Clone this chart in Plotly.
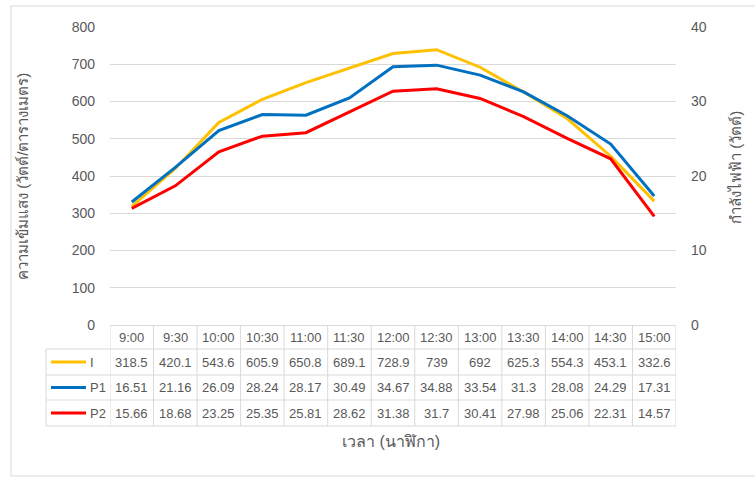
import plotly.graph_objects as go

# Measurement times and series
times = ["9:00", "9:30", "10:00", "10:30", "11:00", "11:30", "12:00",
         "12:30", "13:00", "13:30", "14:00", "14:30", "15:00"]
irradiance = [318.5, 420.1, 543.6, 605.9, 650.8, 689.1, 728.9,
              739, 692, 625.3, 554.3, 453.1, 332.6]
power_p1 = [16.51, 21.16, 26.09, 28.24, 28.17, 30.49, 34.67,
            34.88, 33.54, 31.3, 28.08, 24.29, 17.31]
power_p2 = [15.66, 18.68, 23.25, 25.35, 25.81, 28.62, 31.38,
            31.7, 30.41, 27.98, 25.06, 22.31, 14.57]

series_names = ["I", "P1", "P2"]
series_colors = ["#FFC000", "#0070C0", "#FF0000"]

W, H = 755, 479
L, R, T, B = 110, 676, 27, 325          # plot area in pixels
GRID = "#D9D9D9"
TXT = "#595959"
FONT = "Liberation Sans, Noto Sans, sans-serif"


def px(x):
    return (x - L) / (R - L)


def py(y):
    return (B - y) / (B - T)


idx = list(range(len(times)))
fig = go.Figure()
fig.add_trace(go.Scatter(x=idx, y=irradiance, name="I", mode="lines",
                         line=dict(color=series_colors[0], width=3), yaxis="y"))
fig.add_trace(go.Scatter(x=idx, y=power_p1, name="P1", mode="lines",
                         line=dict(color=series_colors[1], width=3), yaxis="y2"))
fig.add_trace(go.Scatter(x=idx, y=power_p2, name="P2", mode="lines",
                         line=dict(color=series_colors[2], width=3), yaxis="y2"))

shapes = []
annotations = []

# chart frame
shapes.append(dict(type="rect", xref="paper", yref="paper",
                   x0=px(11), x1=px(770), y0=py(476), y1=py(6),
                   line=dict(color=GRID, width=1), layer="below"))

# data table below the axis
n = len(times)
row_lines = [349, 375, 400, 426]
for yl in row_lines:
    shapes.append(dict(type="line", xref="paper", yref="paper",
                       x0=px(46), x1=1, y0=py(yl), y1=py(yl),
                       line=dict(color=GRID, width=1)))
for k in range(n + 1):
    shapes.append(dict(type="line", xref="x", yref="paper",
                       x0=k - 0.5, x1=k - 0.5, y0=py(325), y1=py(426),
                       line=dict(color=GRID, width=1)))
shapes.append(dict(type="line", xref="paper", yref="paper",
                   x0=px(46), x1=px(46), y0=py(349), y1=py(426),
                   line=dict(color=GRID, width=1)))

cell_font = dict(family=FONT, size=13, color=TXT)
for i, t in enumerate(times):
    annotations.append(dict(x=i, y=py(337.5), xref="x", yref="paper", text=t,
                            showarrow=False, font=cell_font,
                            xanchor="center", yanchor="middle"))

rows = [irradiance, power_p1, power_p2]
row_centers = [362, 387.5, 413]
for r, (vals, yc) in enumerate(zip(rows, row_centers)):
    for i, v in enumerate(vals):
        annotations.append(dict(x=i, y=py(yc), xref="x", yref="paper",
                                text=f"{v:g}", showarrow=False, font=cell_font,
                                xanchor="center", yanchor="middle"))
    # legend key
    shapes.append(dict(type="line", xref="paper", yref="paper",
                       x0=px(51), x1=px(86), y0=py(yc), y1=py(yc),
                       line=dict(color=series_colors[r], width=3)))
    annotations.append(dict(x=px(88), y=py(yc), xref="paper", yref="paper",
                            text=series_names[r], showarrow=False, font=cell_font,
                            xanchor="left", yanchor="middle"))

title_font = dict(family=FONT, size=15, color=TXT)
annotations.append(dict(x=px(391), y=py(441), xref="paper", yref="paper",
                        text="เวลา (นาฬิกา)", showarrow=False,
                        font=dict(family=FONT, size=16, color=TXT),
                        xanchor="center", yanchor="middle"))
annotations.append(dict(x=px(22), y=py(177), xref="paper", yref="paper",
                        text="ความเข้มแสง (วัตต์/ตารางเมตร)", showarrow=False,
                        font=title_font, textangle=-90,
                        xanchor="center", yanchor="middle"))
annotations.append(dict(x=px(735), y=py(168), xref="paper", yref="paper",
                        text="กำลังไฟฟ้า (วัตต์)", showarrow=False,
                        font=title_font, textangle=-90,
                        xanchor="center", yanchor="middle"))

tick_font = dict(family=FONT, size=14, color=TXT)
fig.update_layout(
    width=W, height=H,
    margin=dict(l=L, r=W - R, t=T, b=H - B),
    paper_bgcolor="white", plot_bgcolor="white",
    showlegend=False,
    xaxis=dict(range=[-0.5, n - 0.5], showgrid=False, zeroline=False,
               showticklabels=False, showline=True, linecolor=GRID,
               linewidth=1, fixedrange=True),
    yaxis=dict(range=[0, 800], dtick=100, tick0=0, showgrid=True,
               gridcolor=GRID, gridwidth=1, zeroline=False, showline=False,
               tickfont=tick_font, ticklabelstandoff=14),
    yaxis2=dict(range=[0, 40], dtick=10, tick0=0, overlaying="y",
                side="right", showgrid=False, zeroline=False, showline=False,
                tickfont=tick_font, ticklabelstandoff=14),
    shapes=shapes,
    annotations=annotations,
)

fig.write_html("out.html")
